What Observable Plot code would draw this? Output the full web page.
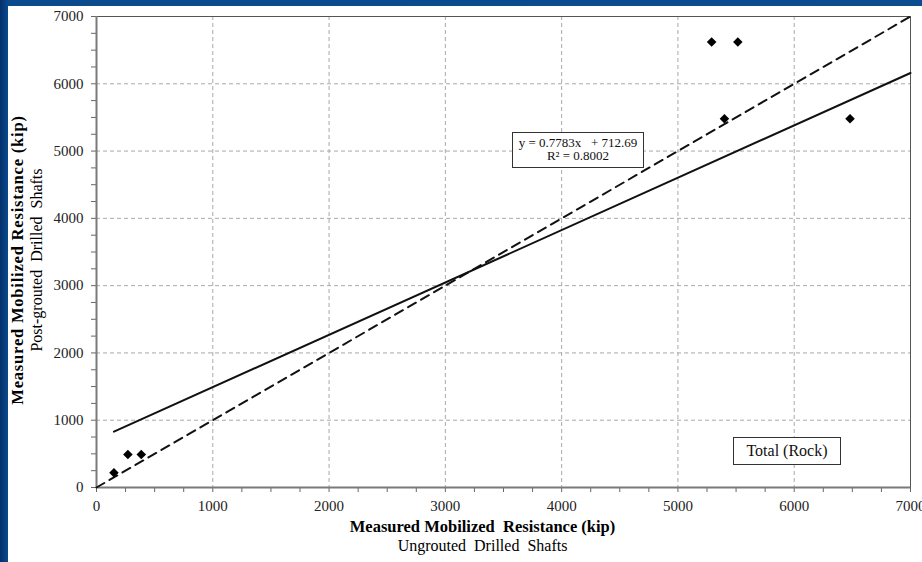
<!DOCTYPE html>
<html>
<head>
<meta charset="utf-8">
<script src="https://cdn.jsdelivr.net/npm/d3@7"></script>
<script src="https://cdn.jsdelivr.net/npm/@observablehq/plot@0.6"></script>
<style>
  html, body { margin: 0; padding: 0; width: 922px; height: 562px; overflow: hidden; }
  body { background: linear-gradient(90deg, #04306a 0px, #0a4a8d 8px, #0b4c90 100%); }
  #panel { position: absolute; left: 8px; top: 6px; width: 914px; height: 556px; background: #fff; }
  #panel svg { display: block; }
  .box { position: absolute; box-sizing: border-box; border: 1px solid #333; background: #fff;
         font-family: "Liberation Serif", "Times New Roman", serif; color: #111;
         text-align: center; white-space: pre; }
  #eq { left: 504px; top: 126px; width: 132px; height: 36px; font-size: 13px; line-height: 13px; padding-top: 3px; }
  #tag { left: 725px; top: 431px; width: 108px; height: 28px; font-size: 16px; line-height: 26px; }
</style>
</head>
<body>
<div id="panel"></div>
<script>
// Measured mobilized resistance (kip) per test shaft
const ungroutedKip   = [150, 270, 385, 5290, 5515, 5400, 6480];
const postGroutedKip = [220, 490, 490, 6620, 6620, 5480, 5480];

// Linear trend reported for the data set
const slope = 0.7783;
const intercept = 712.69;
const rSquared = 0.8002;

// Axis ticks
const tickValues = d3.range(0, 7001, 250);
const gridValues = [1000, 2000, 3000, 4000, 5000, 6000];
const axisMax = 7000;

const points = ungroutedKip.map((x, i) => ({x, y: postGroutedKip[i]}));
const trend = [d3.min(ungroutedKip), axisMax].map(x => ({x, y: slope * x + intercept}));
const equality = [0, axisMax].map(v => ({x: v, y: v}));

const yTitle = "Measured Mobilized Resistance (kip)";

const chart = Plot.plot({
  width: 914,
  height: 556,
  marginLeft: 88,
  marginRight: 12,
  marginTop: 10,
  marginBottom: 75,
  style: {fontFamily: "'Liberation Serif', 'Times New Roman', serif", fontSize: "15px", background: "transparent", color: "#222"},
  x: {domain: [0, axisMax], axis: null},
  y: {domain: [0, axisMax], axis: null},
  marks: [
    Plot.ruleX(gridValues, {stroke: "#a9a9a9", strokeDasharray: "4,3", strokeWidth: 1}),
    Plot.ruleY(gridValues, {stroke: "#a9a9a9", strokeDasharray: "4,3", strokeWidth: 1}),
    Plot.frame({stroke: "#555", strokeWidth: 1}),
    Plot.axisX({ticks: tickValues, tickSize: 5, tickPadding: 8, label: null, stroke: "#666", fill: "#222", fontSize: 15,
                tickFormat: d => d % 1000 === 0 ? String(d) : ""}),
    Plot.axisY({ticks: tickValues, tickSize: 5, tickPadding: 8, label: null, stroke: "#666", fill: "#222", fontSize: 15,
                tickFormat: d => d % 1000 === 0 ? String(d) : ""}),
    Plot.ruleX([0], {stroke: "#7a7a7a", strokeWidth: 2}),
    Plot.ruleY([0], {stroke: "#7a7a7a", strokeWidth: 2}),
    Plot.line(equality, {x: "x", y: "y", stroke: "#111", strokeWidth: 2, strokeDasharray: "9,6"}),
    Plot.line(trend, {x: "x", y: "y", stroke: "#111", strokeWidth: 2}),
    Plot.dot(points, {x: "x", y: "y", symbol: "diamond2", r: 4.3, fill: "#000", stroke: "none"}),
    Plot.text(["Measured Mobilized\u00a0 Resistance (kip)"], {text: d => d, frameAnchor: "bottom", dx: -21, dy: 44, fontWeight: "bold", fontSize: 16.5, fill: "#000"}),
    Plot.text(["Ungrouted\u00a0 Drilled\u00a0 Shafts"], {text: d => d, frameAnchor: "bottom", dx: -21, dy: 63, fontSize: 16, fill: "#000"}),
    Plot.text([yTitle], {text: d => d, frameAnchor: "left", textAnchor: "middle", dx: -79, dy: 8, rotate: -90, fontWeight: "bold", fontSize: 16.5, fill: "#000"}),
    Plot.text(["Post-grouted\u00a0 Drilled\u00a0 Shafts"], {text: d => d, frameAnchor: "left", textAnchor: "middle", dx: -60, dy: 8, rotate: -90, fontSize: 16, fill: "#000"})
  ]
});

// the vertical title is set a little looser than the horizontal one
d3.select(chart).selectAll("text")
  .filter(function() { return this.textContent === yTitle; })
  .attr("letter-spacing", "0.8px");

const panel = document.getElementById("panel");
panel.appendChild(chart);

const eq = document.createElement("div");
eq.id = "eq";
eq.className = "box";
eq.textContent = `y = ${slope}x   + ${intercept}\nR\u00b2 = ${rSquared.toFixed(4)}`;
panel.appendChild(eq);

const tag = document.createElement("div");
tag.id = "tag";
tag.className = "box";
tag.textContent = "Total (Rock)";
panel.appendChild(tag);
</script>
</body>
</html>
